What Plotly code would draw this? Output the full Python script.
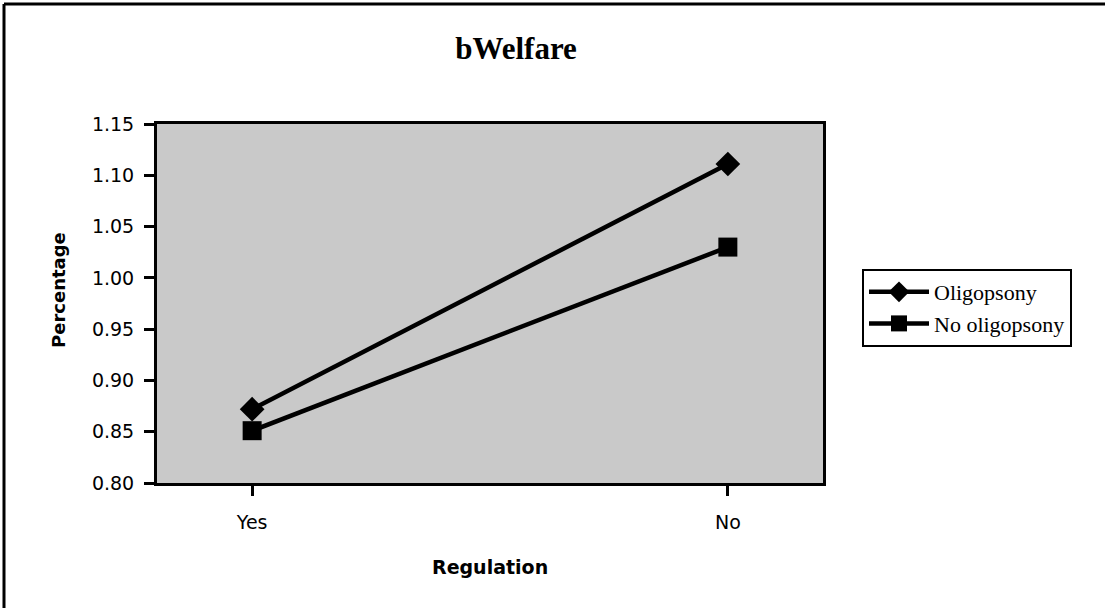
import plotly.graph_objects as go

categories = ["Yes", "No"]
oligopsony = [0.872, 1.111]
no_oligopsony = [0.851, 1.030]
series_names = ["Oligopsony", "No oligopsony"]
y_ticks = [0.80, 0.85, 0.90, 0.95, 1.00, 1.05, 1.10, 1.15]

fig = go.Figure()
fig.add_trace(go.Scatter(
    x=categories, y=oligopsony, name=series_names[0], mode="lines+markers",
    line=dict(color="black", width=4.5),
    marker=dict(symbol="diamond", size=19, color="black"),
))
fig.add_trace(go.Scatter(
    x=categories, y=no_oligopsony, name=series_names[1], mode="lines+markers",
    line=dict(color="black", width=4.5),
    marker=dict(symbol="square", size=19, color="black"),
))

W, H = 1105, 608
L, R, T, B = 157, 823, 124, 483
PW, PH = R - L, B - T

fig.update_layout(
    width=W, height=H,
    margin=dict(l=L, r=W - R, t=T, b=H - B),
    paper_bgcolor="white",
    plot_bgcolor="#c9c9c9",
    showlegend=True,
    title=dict(text="<b>bWelfare</b>", x=516 / W, xanchor="center", y=1 - 48 / H, yanchor="middle",
               font=dict(family="Liberation Serif", size=31, color="black")),
    legend=dict(
        x=(862 - L) / PW, y=(B - 269) / PH, xanchor="left", yanchor="top",
        bordercolor="black", borderwidth=2, bgcolor="white",
        font=dict(family="Liberation Serif", size=22, color="black"),
        itemwidth=60, tracegroupgap=0,
    ),
    font=dict(family="DejaVu Sans", color="black"),
)

fig.update_xaxes(
    type="category", range=[-0.2, 1.2],
    showline=True, linecolor="black", linewidth=3, mirror=True,
    ticks="outside", ticklen=10, tickwidth=3, tickcolor="black",
    showgrid=False, zeroline=False, ticklabelstandoff=10,
    tickfont=dict(family="DejaVu Sans", size=19, color="black"),
)
fig.update_yaxes(
    range=[0.80, 1.15], tickvals=y_ticks, tickformat=".2f",
    showline=True, linecolor="black", linewidth=3, mirror=True,
    ticks="outside", ticklen=10, tickwidth=3, tickcolor="black",
    showgrid=False, zeroline=False, ticklabelstandoff=6,
    tickfont=dict(family="DejaVu Sans", size=19, color="black"),
)

# axis titles
fig.add_annotation(text="<b>Percentage</b>", xref="paper", yref="paper",
                   x=(58 - L) / PW, y=(B - 290) / PH, xanchor="center", yanchor="middle",
                   textangle=-90, showarrow=False,
                   font=dict(family="DejaVu Sans", size=18, color="black"))
fig.add_annotation(text="<b>Regulation</b>", xref="paper", yref="paper",
                   x=(490 - L) / PW, y=(B - 567) / PH, xanchor="center", yanchor="middle",
                   showarrow=False,
                   font=dict(family="DejaVu Sans", size=19, color="black"))

# outer frame (left and top edges)
fx = -(L - 4) / PW
fy = (B - 4) / PH
fig.add_shape(type="line", xref="paper", yref="paper",
              x0=fx, x1=fx, y0=fy, y1=-(H - B) / PH,
              line=dict(color="black", width=3))
fig.add_shape(type="line", xref="paper", yref="paper",
              x0=fx, x1=(W - L) / PW, y0=fy, y1=fy,
              line=dict(color="black", width=3))

fig.write_html("out.html", config={"displayModeBar": False},
               post_script="document.body.style.margin='0';document.body.style.overflow='hidden';")
